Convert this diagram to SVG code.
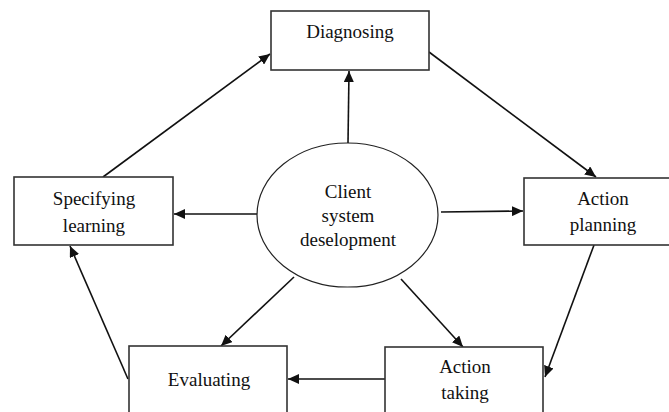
<svg xmlns="http://www.w3.org/2000/svg" width="669" height="412" viewBox="0 0 669 412">
<defs>
<style>
.box{fill:#fff;stroke:#333;stroke-width:1.6}
.ell{fill:#fff;stroke:#222;stroke-width:1.2}
.lbl{font-family:"Liberation Serif","Times New Roman",serif;font-size:19px;fill:#111;text-anchor:middle}
.con{stroke:#111;stroke-width:1.6;fill:none;marker-end:url(#ah)}
</style>
<marker id="ah" markerUnits="userSpaceOnUse" markerWidth="12" markerHeight="10" refX="11" refY="5" orient="auto">
<path d="M0,0 L11,5 L0,10 Z" fill="#111"/>
</marker>
</defs>
<rect width="669" height="412" fill="#fff"/>
<g id="connectors">
<line class="con" x1="348" y1="143" x2="349" y2="71"/>
<line class="con" x1="429" y1="52" x2="596" y2="177"/>
<line class="con" x1="594" y1="245" x2="545" y2="377"/>
<line class="con" x1="385" y1="379" x2="288" y2="379"/>
<line class="con" x1="128" y1="379" x2="70" y2="246"/>
<line class="con" x1="103" y1="177" x2="270" y2="54"/>
<line class="con" x1="258" y1="214" x2="174" y2="214"/>
<line class="con" x1="441" y1="212" x2="523" y2="211"/>
<line class="con" x1="294" y1="277" x2="221" y2="346"/>
<line class="con" x1="401" y1="279" x2="463" y2="347"/>
</g>
<g id="diagnosing">
<rect class="box" x="271" y="11" width="158" height="59"/>
<text class="lbl" x="350" y="38">Diagnosing</text>
</g>
<g id="specifying-learning">
<rect class="box" x="14" y="177" width="159" height="68"/>
<text class="lbl" x="94" y="205">Specifying</text>
<text class="lbl" x="94" y="232">learning</text>
</g>
<g id="action-planning">
<rect class="box" x="524" y="178" width="160" height="67"/>
<text class="lbl" x="603" y="205">Action</text>
<text class="lbl" x="603" y="231">planning</text>
</g>
<g id="evaluating">
<rect class="box" x="129" y="346" width="158" height="80"/>
<text class="lbl" x="209" y="386">Evaluating</text>
</g>
<g id="action-taking">
<rect class="box" x="385" y="347" width="158" height="80"/>
<text class="lbl" x="465" y="373">Action</text>
<text class="lbl" x="465" y="399">taking</text>
</g>
<g id="client-system">
<ellipse class="ell" cx="347.5" cy="215" rx="90.5" ry="72"/>
<text class="lbl" x="348" y="198">Client</text>
<text class="lbl" x="348" y="222">system</text>
<text class="lbl" x="348" y="246">deselopment</text>
</g>
</svg>
